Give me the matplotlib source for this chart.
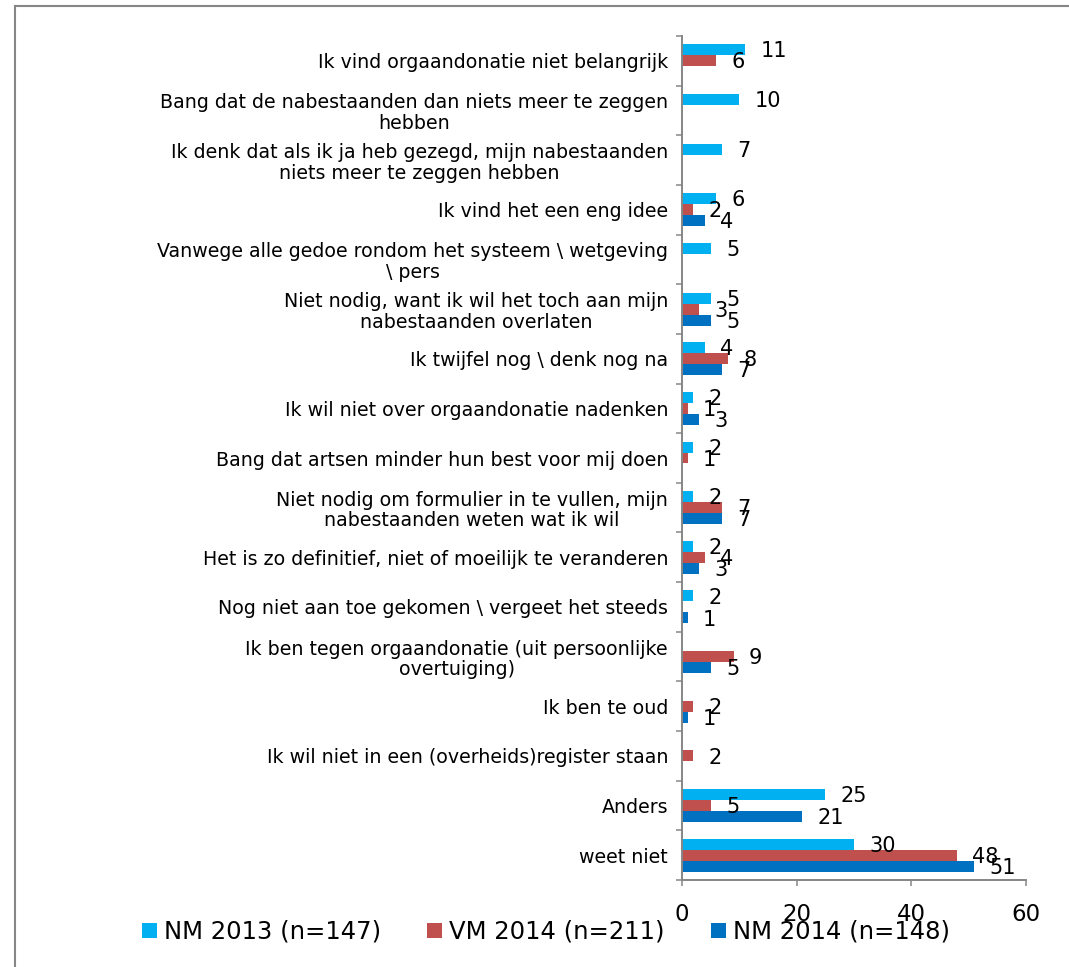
import numpy as np
import matplotlib
matplotlib.use("Agg")
import matplotlib.pyplot as plt
from matplotlib.lines import Line2D
from matplotlib.patches import Patch

categories = [
    "Ik vind orgaandonatie niet belangrijk",
    "Bang dat de nabestaanden dan niets meer te zeggen\nhebben",
    "Ik denk dat als ik ja heb gezegd, mijn nabestaanden\nniets meer te zeggen hebben",
    "Ik vind het een eng idee",
    "Vanwege alle gedoe rondom het systeem \\ wetgeving\n\\ pers",
    "Niet nodig, want ik wil het toch aan mijn\nnabestaanden overlaten",
    "Ik twijfel nog \\ denk nog na",
    "Ik wil niet over orgaandonatie nadenken",
    "Bang dat artsen minder hun best voor mij doen",
    "Niet nodig om formulier in te vullen, mijn\nnabestaanden weten wat ik wil",
    "Het is zo definitief, niet of moeilijk te veranderen",
    "Nog niet aan toe gekomen \\ vergeet het steeds",
    "Ik ben tegen orgaandonatie (uit persoonlijke\novertuiging)",
    "Ik ben te oud",
    "Ik wil niet in een (overheids)register staan",
    "Anders",
    "weet niet",
]
nm2013 = [11, 10, 7, 6, 5, 5, 4, 2, 2, 2, 2, 2, None, None, None, 25, 30]
vm2014 = [6, None, None, 2, None, 3, 8, 1, 1, 7, 4, None, 9, 2, 2, 5, 48]
nm2014 = [None, None, None, 4, None, 5, 7, 3, None, 7, 3, 1, 5, 1, None, 21, 51]

series_names = ["NM 2013 (n=147)", "VM 2014 (n=211)", "NM 2014 (n=148)"]
series_colors = ["#00B0F0", "#C0504D", "#0070C0"]
xticks = [0, 20, 40, 60]

W, H = 1069, 967
fig = plt.figure(figsize=(W / 100, H / 100), dpi=100)
ax = fig.add_axes([682 / W, 1 - 880 / H, (1026 - 682) / W, (880 - 36) / H])

gray = "#868686"
n = len(categories)
y = np.arange(n)
h = 11 / 49.65
series = [nm2013, vm2014, nm2014]
offsets = [-h, 0, h]

for vals, col, off in zip(series, series_colors, offsets):
    for i, v in enumerate(vals):
        if v is None:
            continue
        ax.barh(y[i] + off, v, height=h, color=col, edgecolor="none")
        ax.annotate(str(v), xy=(v, y[i] + off), xytext=(11, -1.2),
                    textcoords="offset points", ha="left", va="center",
                    fontsize=15, color="black")

ax.set_xlim(0, 60)
ax.set_ylim(n - 0.5, -0.5)
ax.set_xticks(xticks)
ax.set_xticklabels([str(t) for t in xticks], fontsize=16.5)
ax.tick_params(axis="x", direction="out", length=4.5, width=1.1, color=gray, pad=12)

ax.set_yticks(np.arange(-0.5, n, 1.0))
ax.set_yticklabels([])
ax.tick_params(axis="y", which="major", direction="out", length=4.5, width=1.1, color=gray)
ax.set_yticks(y, minor=True)
ax.set_yticklabels(categories, minor=True, fontsize=13.7)
ax.tick_params(axis="y", which="minor", length=0, pad=10)
for t in ax.get_yticklabels(minor=True):
    t.set_multialignment("center")
    t.set_linespacing(1.1)

for s in ["top", "right"]:
    ax.spines[s].set_visible(False)
for s in ["left", "bottom"]:
    ax.spines[s].set_color(gray)
    ax.spines[s].set_linewidth(1.4)

handles = [Patch(facecolor=c, edgecolor="none") for c in series_colors]
fig.legend(handles, series_names, loc="center", bbox_to_anchor=(546 / W, 1 - 932 / H),
           ncol=3, frameon=False, fontsize=17.5, handlelength=0.6, handleheight=0.6,
           handletextpad=0.3, columnspacing=1.9)

# outer chart border (top and left visible)
fig.add_artist(Line2D([15.3 / W, 1.0], [1 - 6 / H, 1 - 6 / H], transform=fig.transFigure,
                      color=gray, linewidth=1.5))
fig.add_artist(Line2D([15.3 / W, 15.3 / W], [0.0, 1 - 6 / H], transform=fig.transFigure,
                      color=gray, linewidth=1.5))

fig.savefig("out.png", dpi=100, facecolor="white")
